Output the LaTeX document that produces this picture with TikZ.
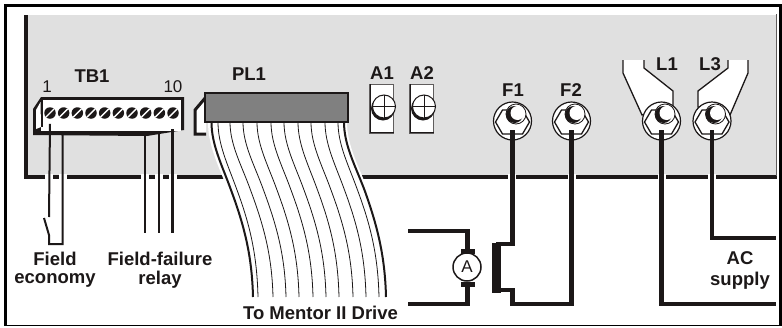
\documentclass[tikz,border=0pt]{standalone}
\usepackage{fontspec}
\setmainfont{Liberation Sans}
\usetikzlibrary{positioning}
\definecolor{panelgrey}{RGB}{224,224,224}
\definecolor{plugrey}{RGB}{128,128,128}
\definecolor{inkblack}{RGB}{28,24,24}

\begin{document}
\begin{tikzpicture}[x=1pt,y=-1pt,line join=miter,
  wire/.style={draw=inkblack,line width=4.5pt},
  thin wire/.style={draw=inkblack,line width=2pt},
  ribbon line/.style={draw=inkblack,line width=0.8pt},
  label/.style={font=\bfseries\fontsize{18.5}{20}\selectfont,text=inkblack,inner sep=0pt,align=center},
  num/.style={font=\fontsize{17}{18}\selectfont,text=inkblack,inner sep=0pt},
  terminal/.style={circle,draw=inkblack,line width=1.2pt,fill=white,minimum size=38pt,inner sep=0pt},
  plate/.style={rectangle,draw=inkblack!70,line width=1pt,fill=white,minimum width=24pt,minimum height=49pt,inner sep=0pt},
  lug/.style={draw=inkblack,line width=1.3pt,fill=white},
  tb screw/.style={circle,fill=inkblack,minimum size=11.5pt,inner sep=0pt},
  adj screw/.style={circle,draw=inkblack,line width=1pt,fill=white,minimum size=23pt,inner sep=0pt}]
  \useasboundingbox (0,0) rectangle (782,327);
  \fill[white] (0,0) rectangle (782,327);
  % panel
  \fill[panelgrey] (25,15) rectangle (777,177);
  \draw[inkblack,line width=4pt] (26,15) -- (26,176.5) -- (777,176.5);
  \draw[inkblack!70,line width=1pt] (776.5,14) -- (776.5,176);
  \foreach \x in {49,62.5,145,159,172.5,512,571.5,661.5,712}
    \draw[white,line width=8pt] (\x,174) -- (\x,179.5);
  % outer frame
  \draw[black,line width=3pt] (5.5,325) -- (5.5,5.5) -- (780,5.5) -- (780,325);
  \draw[black,line width=1.5pt] (4,325.5) -- (781.5,325.5);

  % TB1
  \fill[inkblack] (41,97) -- (33,109) -- (33,135) -- (147,136) -- (184,130) -- (184,97) -- cycle;
  \fill[white] (40.5,102) -- (36,110) -- (36,129) -- (41,127) -- cycle;
  \fill[white] (43,100) rectangle (181,127);
  \fill[white] (41,127) rectangle (181,131);
  \foreach \i in {1,...,10} {
    \node[tb screw] (s\i) at ({50+(\i-1)*13.67},113) {};
    \draw[white,line width=1.4pt] ([shift={(-4,4)}]s\i.center) -- ([shift={(4,-4)}]s\i.center);
  }
  \node[label] (TB1) at (92,76) {TB1};
  \node[num] (n1) at (47,87) {1};
  \node[num] (n10) at (173,87) {10};

  % field economy and relay
  \coordinate (sw) at (44,218);
  \coordinate (swb) at (49,244);
  \draw[thin wire] (s1.south) ++(0,5) -- (49,217);
  \draw[thin wire] (sw) -- (49,235) -- (swb) -- (62.5,244) -- (62.5,131);
  \draw[thin wire] (145,131) -- (145,233);
  \draw[thin wire] (159,131) -- (159,233);
  \draw[wire,line width=3pt] (172.5,129) -- (172.5,233);
  \node[label] (field) at (55,259) {Field};
  \node[label] (economy) at (55,280) {economy};
  \node[label] (failure) at (160,259) {Field-failure};
  \node[label] (relay) at (160,280) {relay};

  % PL1 and ribbon
  \draw[inkblack,line width=3pt,fill=white] (206,97) -- (195,110) -- (195,134) -- (206,134);
  \fill[white] (208,122) .. controls (208,145) and (218,165) .. (228,190) .. controls (241,225) and (249,255) .. (250,297)
    -- (389,297) .. controls (388,255) and (380,225) .. (368,190) .. controls (358,165) and (347,145) .. (347,122) -- cycle;
  \foreach \a/\b in {218/258,230/273,243/286,257/299,271/313,284/326,298/339,311/353,325/366,338/379}
    \draw[ribbon line] (\a,122) .. controls (\a,145) and ({(\a+\b)/2-10},165) .. ({(\a+\b)/2-1},190)
      .. controls ({(\a+\b)/2+12},225) and (\b-1,255) .. (\b,297);
  \draw[inkblack,line width=2pt] (211.5,122) .. controls (211.5,145) and (222,165) .. (231,190)
    .. controls (244,225) and (252,255) .. (253,297);
  \draw[inkblack,line width=2pt] (344,122) .. controls (344,145) and (355,165) .. (364.5,190)
    .. controls (377,225) and (385,255) .. (386,297);
  \node[rectangle,draw=inkblack,line width=2pt,fill=plugrey,minimum width=143pt,minimum height=29pt,inner sep=0pt] (PLbody) at (276.5,107.5) {};
  \node[label] (PL1) at (249,74) {PL1};
  \node[label] (mentor) at (320.5,313) {To Mentor II Drive};

  % A1 A2
  \foreach \name/\x in {A1/381.5,A2/421.5} {
    \node[plate] (\name p) at (\x,108.5) {};
    \draw[inkblack,line width=1.5pt] (\x-11,84) -- (\x-11,133);
    \draw[inkblack,line width=1.5pt] (\x-11,132.5) -- (\x+12,132.5);
    \fill[inkblack] (\x+1.5,108.5) circle (12pt);
    \node[adj screw] (\name s) at (\x+2.5,106.5) {};
    \draw[inkblack,line width=0.8pt] (\name s.west) -- (\name s.east) (\name s.north) -- (\name s.south);
    \node[label] (\name l) at (\x+0.5,73) {\name};
  }

  % lugs
  \draw[lug] (623,60) -- (623,73) -- (642,115) -- (673,107) -- (673,91) -- (644,68) -- (644,60);
  \draw[lug] (748,60) -- (748,73) -- (730,115) -- (698,107) -- (698,91) -- (728,68) -- (728,60);

  % terminals
  \foreach \name/\x in {F1/512.5,F2/571.5,L1/661.5,L3/712} {
    \node[terminal] (\name) at (\x,121) {};
    \draw[inkblack,line width=1.3pt] (\x-17,122) -- (\x-10,110) -- (\x+10,110) -- (\x+17,122) -- (\x+10,134) -- (\x-10,134) -- cycle;
    \fill[white,draw=inkblack,line width=0.8pt] (\x+3.5,114) circle (10pt);
    \fill[inkblack] (\x+2,114.5) circle (8.5pt);
    \fill[white] (\x+5,113) circle (7pt);
  }
  \coordinate (F1w) at (512.5,130);
  \coordinate (F2w) at (571.5,130);
  \coordinate (L1w) at (661.5,130);
  \coordinate (L3w) at (712,130);
  \node[label] (F1l) at (513,90) {F1};
  \node[label] (F2l) at (571,90) {F2};
  \node[label] (L1l) at (667,64) {L1};
  \node[label] (L3l) at (710,64) {L3};

  % main wiring
  \coordinate (acl) at (776,304);
  \coordinate (acu) at (776,238);
  \coordinate (ml) at (408,304);
  \coordinate (mu) at (408,231);
  \draw[wire] (L1w) |- (acl);
  \draw[wire] (L3w) |- (acu);
  \draw[wire] (F1w) -- (512.5,244) -- (496,244);
  \draw[wire] (496,290) -- (512.5,290) -- (512.5,304) -- (571.5,304) -- (F2w);
  \fill[inkblack] (492,243) rectangle (501,293);

  % ammeter
  \node[circle,draw=inkblack,line width=1.5pt,fill=white,minimum size=28pt,inner sep=0pt,font=\fontsize{17}{18}\selectfont,text=inkblack] (A) at (467,267) {A};
  \draw[wire] (mu) -- (467.5,231) -- (467.5,252);
  \draw[wire] (ml) -- (467.5,304) -- (467.5,282);
  \fill[inkblack] (461,249) rectangle (475,254);
  \fill[inkblack] (461,282) rectangle (475,287);

  % right hand label
  \node[label] (AC) at (740,258) {AC};
  \node[label] (supply) at (740,281) {supply};
\end{tikzpicture}
\end{document}
